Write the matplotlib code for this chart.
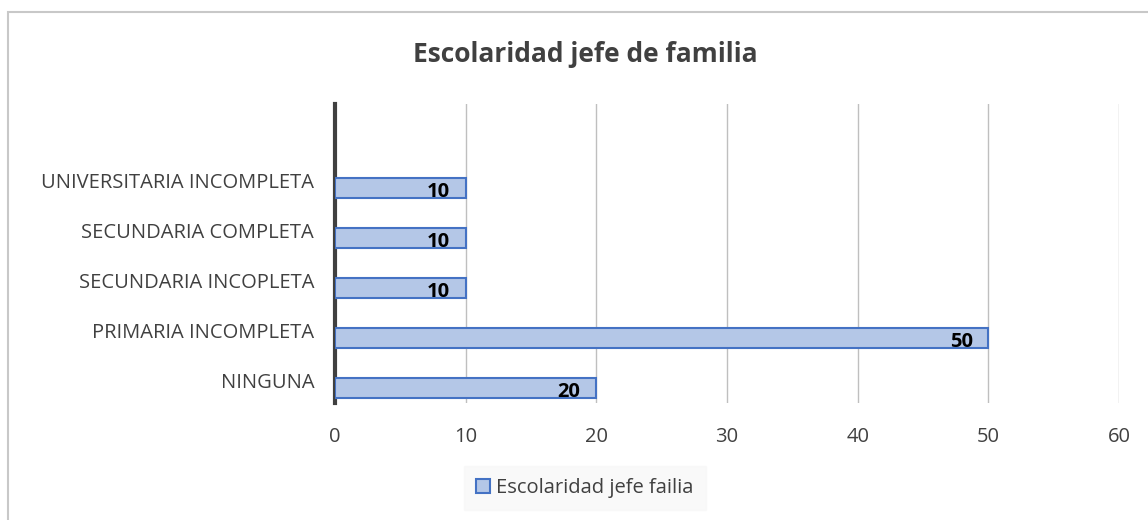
import matplotlib.pyplot as plt
import matplotlib.transforms as mtransforms
from matplotlib.patches import Rectangle

categorias = ['NINGUNA', 'PRIMARIA INCOMPLETA', 'SECUNDARIA INCOPLETA',
              'SECUNDARIA COMPLETA', 'UNIVERSITARIA INCOMPLETA']
valores = [20, 50, 10, 10, 10]
xticks = [0, 10, 20, 30, 40, 50, 60]
titulo = 'Escolaridad jefe de familia'
leyenda = 'Escolaridad jefe failia'

plt.rcParams['font.family'] = ['Open Sans', 'DejaVu Sans']

W, H = 1148, 520
fig = plt.figure(figsize=(W / 100, H / 100), dpi=100)

# borde del grafico
fig.patches.append(Rectangle((8 / W, -0.2), 1.2, 1.2 - 12 / H, transform=fig.transFigure,
                             facecolor='none', edgecolor='#c8c8c8', linewidth=1.5))

ax = fig.add_axes([335 / W, (H - 403) / H, (1119 - 335) / W, (403 - 104) / H])

y = list(range(len(categorias)))
bars = ax.barh(y, valores, height=0.4, color='#b4c7e7', edgecolor='#4472c4',
               linewidth=1.5, label=leyenda, zorder=3)

for yi, v in zip(y, valores):
    ax.text(v - 1.2, yi - 0.08, str(v), ha='right', va='center', fontsize=14.5,
            fontweight='bold', color='black', zorder=4)

ax.set_xlim(0, 60)
ax.set_ylim(-0.3, 5.68)
ax.set_xticks(xticks)
ax.set_yticks(y)
ax.set_yticklabels(categorias)
ax.xaxis.grid(True, color='#bfbfbf', linewidth=1)
ax.set_axisbelow(True)
for s in ['top', 'right', 'bottom']:
    ax.spines[s].set_visible(False)
ax.spines['left'].set_color('#404040')
ax.spines['left'].set_linewidth(3)
ax.tick_params(axis='both', length=0, labelsize=14.5, colors='#404040')
ax.tick_params(axis='x', pad=17)
ax.tick_params(axis='y', pad=15)

# etiquetas de categoria un poco por encima del centro de la barra
desplaza = mtransforms.ScaledTranslation(0, 8 / 100, fig.dpi_scale_trans)
for lbl in ax.get_yticklabels():
    lbl.set_transform(lbl.get_transform() + desplaza)

fig.text(585 / W, 1 - 55 / H, titulo, ha='center', va='center', fontsize=19,
         fontweight='bold', color='#404040')

leg = fig.legend(handles=[bars], labels=[leyenda], loc='center',
                 bbox_to_anchor=(585 / W, 1 - 488 / H), frameon=True, fontsize=14.5,
                 handlelength=0.7, handleheight=0.7, handletextpad=0.3,
                 borderpad=0.6, borderaxespad=0, fancybox=False)
leg.get_frame().set_facecolor('#f8f8f8')
leg.get_frame().set_edgecolor('#f8f8f8')
for t in leg.get_texts():
    t.set_color('#404040')

fig.savefig('out.png', dpi=100)
